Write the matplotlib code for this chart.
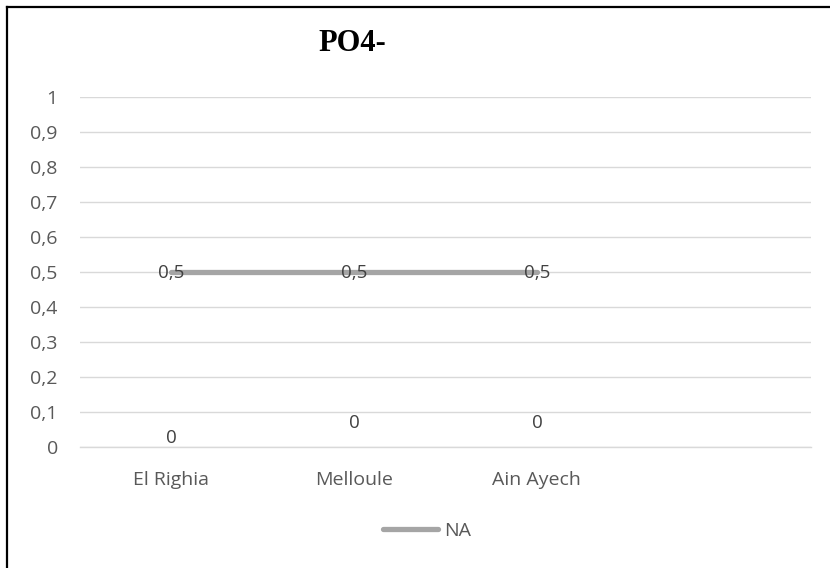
import numpy as np
import matplotlib
matplotlib.use("Agg")
import matplotlib.pyplot as plt
from matplotlib.lines import Line2D
from matplotlib.ticker import FuncFormatter, MultipleLocator

# data
stations = ["El Righia", "Melloule", "Ain Ayech"]
na_values = [0.5, 0.5, 0.5]
zero_values = [0, 0, 0]
series_name = "NA"
title = "PO4-"

plt.rcParams["font.family"] = ["Open Sans", "DejaVu Sans"]

fig = plt.figure(figsize=(8.30, 5.68), dpi=100)
ax = fig.add_axes([80 / 830, 1 - 447 / 568, 731 / 830, 350 / 568])

x = np.arange(len(stations))
ax.plot(x, na_values, color="#A5A5A5", lw=3.8, solid_capstyle="round",
        label=series_name, zorder=3)

txt_color = "#404040"
for xi, v in zip(x, na_values):
    ax.annotate(f"{v:g}".replace(".", ","), (xi, v), xytext=(0, -1),
                textcoords="offset points", ha="center", va="center",
                fontsize=13.5, color=txt_color, zorder=4)

# labels of the empty series (El Righia sits lower than the others)
zero_offsets = [6.5, 17, 17]
for xi, v, off in zip(x, zero_values, zero_offsets):
    ax.annotate(f"{v:g}", (xi, v), xytext=(0, off), textcoords="offset points",
                ha="center", va="center", fontsize=13.5, color=txt_color)

ax.set_xlim(-0.5, 3.5)
ax.set_ylim(0, 1)
ax.yaxis.set_major_locator(MultipleLocator(0.1))
ax.yaxis.set_major_formatter(FuncFormatter(lambda v, p: f"{round(v, 1):g}".replace(".", ",")))
ax.set_xticks(x)
ax.set_xticklabels(stations)

ax.grid(axis="y", color="#D9D9D9", lw=1.0)
ax.set_axisbelow(True)
for s in ["top", "right", "left"]:
    ax.spines[s].set_visible(False)
ax.spines["bottom"].set_color("#D9D9D9")
ax.spines["bottom"].set_linewidth(1.0)
ax.tick_params(axis="both", length=0, labelsize=14, colors="#595959")
ax.tick_params(axis="y", pad=16)
ax.tick_params(axis="x", pad=17)

fig.text(352 / 830, 1 - 51 / 568, title, ha="center", va="baseline",
         fontsize=22, fontweight="bold", family="Liberation Serif")

leg = fig.legend(loc="center", bbox_to_anchor=(427 / 830, 1 - 531 / 568),
                 frameon=False, fontsize=14, handlelength=2.8,
                 handletextpad=0.3, labelcolor="#595959")

# outer chart border (only left and top visible in the crop)
fig.add_artist(Line2D([7 / 830, 7 / 830], [0, 1 - 7 / 568], color="black", lw=1.6,
                      transform=fig.transFigure, solid_capstyle="projecting"))
fig.add_artist(Line2D([7 / 830, 1], [1 - 7 / 568, 1 - 7 / 568], color="black", lw=1.6,
                      transform=fig.transFigure, solid_capstyle="projecting"))

fig.savefig("out.png", dpi=100)
